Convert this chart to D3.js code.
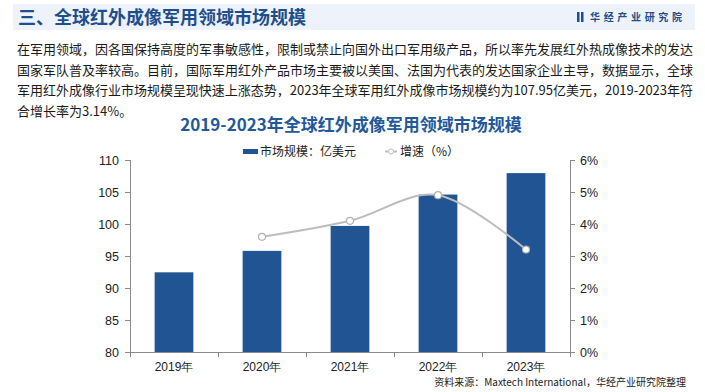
<!DOCTYPE html>
<html>
<head>
<meta charset="utf-8">
<script src="https://d3js.org/d3.v7.min.js"></script>
<style>
body {
  margin: 0;
  background: #fff;
  font-family: "Noto Sans CJK SC", "Noto Sans", sans-serif;
}
.axis path, .axis line {
  stroke: #8a8a8a;
  shape-rendering: crispEdges;
}
.axis text {
  font-family: "Liberation Sans", Arial, sans-serif;
  font-size: 12.5px;
  fill: #222;
}
</style>
</head>
<body>
<div id="chart"></div>
<script>

// data
var years = ["2019年", "2020年", "2021年", "2022年", "2023年"];
var marketSize = [92.45, 95.8, 99.7, 104.6, 107.95];   // 亿美元
var growthRate = [null, 3.6, 4.1, 4.9, 3.2];            // %
var leftTicks = [80, 85, 90, 95, 100, 105, 110];
var rightTicks = [0, 1, 2, 3, 4, 5, 6];

var paragraph = [
  "在军用领域，因各国保持高度的军事敏感性，限制或禁止向国外出口军用级产品，所以率先发展红外热成像技术的发达",
  "国家军队普及率较高。目前，国际军用红外产品市场主要被以美国、法国为代表的发达国家企业主导，数据显示，全球",
  "军用红外成像行业市场规模呈现快速上涨态势，2023年全球军用红外成像市场规模约为107.95亿美元，2019-2023年符",
  "合增长率为3.14%。"
];

var W = 705, H = 392;
var margin = {top: 160, right: 135, bottom: 40, left: 130};
var width = W - margin.left - margin.right,
    height = H - margin.top - margin.bottom;

var svg = d3.select("#chart").append("svg")
  .attr("width", W)
  .attr("height", H);

// header band
svg.append("rect")
  .attr("x", 13).attr("y", 4)
  .attr("width", 682).attr("height", 26)
  .attr("fill", "#eef3fb");

svg.append("text")
  .attr("x", 18).attr("y", 24)
  .attr("fill", "#1f4e8c")
  .style("font-size", "18px")
  .style("font-weight", "bold")
  .text("三、全球红外成像军用领域市场规模");

svg.append("rect").attr("x", 577).attr("y", 12).attr("width", 2.5).attr("height", 10).attr("fill", "#1f4e8c");
svg.append("rect").attr("x", 581).attr("y", 12).attr("width", 2.5).attr("height", 10).attr("fill", "#1f4e8c");
svg.append("text")
  .attr("x", 590).attr("y", 21)
  .attr("fill", "#1f4e8c")
  .attr("textLength", 92)
  .attr("lengthAdjust", "spacing")
  .style("font-size", "10px")
  .style("font-weight", "bold")
  .text("华经产业研究院");

// paragraph
svg.append("g").selectAll("text")
  .data(paragraph)
  .enter().append("text")
    .attr("x", 17)
    .attr("y", function(d, i) { return 54 + i * 20.5; })
    .attr("fill", "#1a1a1a")
    .attr("textLength", function(d, i) { return i < 3 ? 676 : null; })
    .attr("lengthAdjust", "spacing")
    .style("font-size", "13px")
    .text(function(d) { return d; });

// chart title
svg.append("text")
  .attr("x", 351).attr("y", 131)
  .attr("text-anchor", "middle")
  .attr("fill", "#22589a")
  .style("font-size", "17px")
  .style("font-weight", "bold")
  .text("2019-2023年全球红外成像军用领域市场规模");

// legend
var legend = svg.append("g");
legend.append("rect")
  .attr("x", 243).attr("y", 149)
  .attr("width", 15).attr("height", 5)
  .attr("fill", "#215493");
legend.append("text")
  .attr("x", 260).attr("y", 156)
  .attr("fill", "#222")
  .style("font-size", "12px")
  .text("市场规模：亿美元");
legend.append("line")
  .attr("x1", 385).attr("x2", 397)
  .attr("y1", 151.5).attr("y2", 151.5)
  .attr("stroke", "#bdbdbd").attr("stroke-width", 2);
legend.append("circle")
  .attr("cx", 391).attr("cy", 151.5).attr("r", 2.5)
  .attr("fill", "#fff").attr("stroke", "#bdbdbd");
legend.append("text")
  .attr("x", 400).attr("y", 156)
  .attr("fill", "#222")
  .style("font-size", "12px")
  .text("增速（%）");

var g = svg.append("g")
  .attr("transform", "translate(" + margin.left + "," + margin.top + ")");

var x = d3.scaleBand()
  .domain(years)
  .range([0, width])
  .paddingInner(0.56)
  .paddingOuter(0.28);

var xTick = d3.scalePoint()
  .domain(d3.range(years.length + 1))
  .range([0, width]);

var y = d3.scaleLinear().domain([80, 110]).range([height, 0]);
var y2 = d3.scaleLinear().domain([0, 6]).range([height, 0]);

// bars
g.selectAll(".bar")
  .data(marketSize)
  .enter().append("rect")
    .attr("class", "bar")
    .attr("x", function(d, i) { return x(years[i]); })
    .attr("y", function(d) { return y(d); })
    .attr("width", x.bandwidth())
    .attr("height", function(d) { return height - y(d); })
    .attr("fill", "#215493");

// axes
g.append("g")
  .attr("class", "axis")
  .call(d3.axisLeft(y).tickValues(leftTicks).tickSize(5).tickPadding(6));

g.append("g")
  .attr("class", "axis")
  .attr("transform", "translate(" + width + ",0)")
  .call(d3.axisRight(y2).tickValues(rightTicks).tickSize(5).tickPadding(5)
    .tickFormat(function(d) { return d + "%"; }));

var xAxis = g.append("g")
  .attr("class", "axis")
  .attr("transform", "translate(0," + height + ")");
xAxis.append("line")
  .attr("x1", 0).attr("x2", width)
  .attr("stroke", "#8a8a8a");
xAxis.selectAll(".tk")
  .data(xTick.domain())
  .enter().append("line")
    .attr("x1", function(d) { return xTick(d); })
    .attr("x2", function(d) { return xTick(d); })
    .attr("y1", 0).attr("y2", 5);
xAxis.selectAll(".lbl")
  .data(years)
  .enter().append("text")
    .attr("x", function(d) { return x(d) + x.bandwidth() / 2; })
    .attr("y", 19)
    .attr("text-anchor", "middle")
    .style("font-size", "12px")
    .text(function(d) { return d; });

// growth line
var pts = growthRate.map(function(v, i) { return {year: years[i], v: v}; })
  .filter(function(d) { return d.v !== null; });

g.append("path")
  .datum(pts)
  .attr("fill", "none")
  .attr("stroke", "#bdbdbd")
  .attr("stroke-width", 2)
  .attr("d", d3.line()
    .curve(d3.curveCardinal.tension(0))
    .x(function(d) { return x(d.year) + x.bandwidth() / 2; })
    .y(function(d) { return y2(d.v); }));

g.selectAll(".dot")
  .data(pts)
  .enter().append("circle")
    .attr("cx", function(d) { return x(d.year) + x.bandwidth() / 2; })
    .attr("cy", function(d) { return y2(d.v); })
    .attr("r", 3.5)
    .attr("fill", "#fff")
    .attr("stroke", "#b0b0b0")
    .attr("stroke-width", 1.2);

// source
svg.append("text")
  .attr("x", 686).attr("y", 386)
  .attr("text-anchor", "end")
  .attr("fill", "#222")
  .style("font-size", "10px")
  .text("资料来源：Maxtech International，华经产业研究院整理");

</script>
</body>
</html>
